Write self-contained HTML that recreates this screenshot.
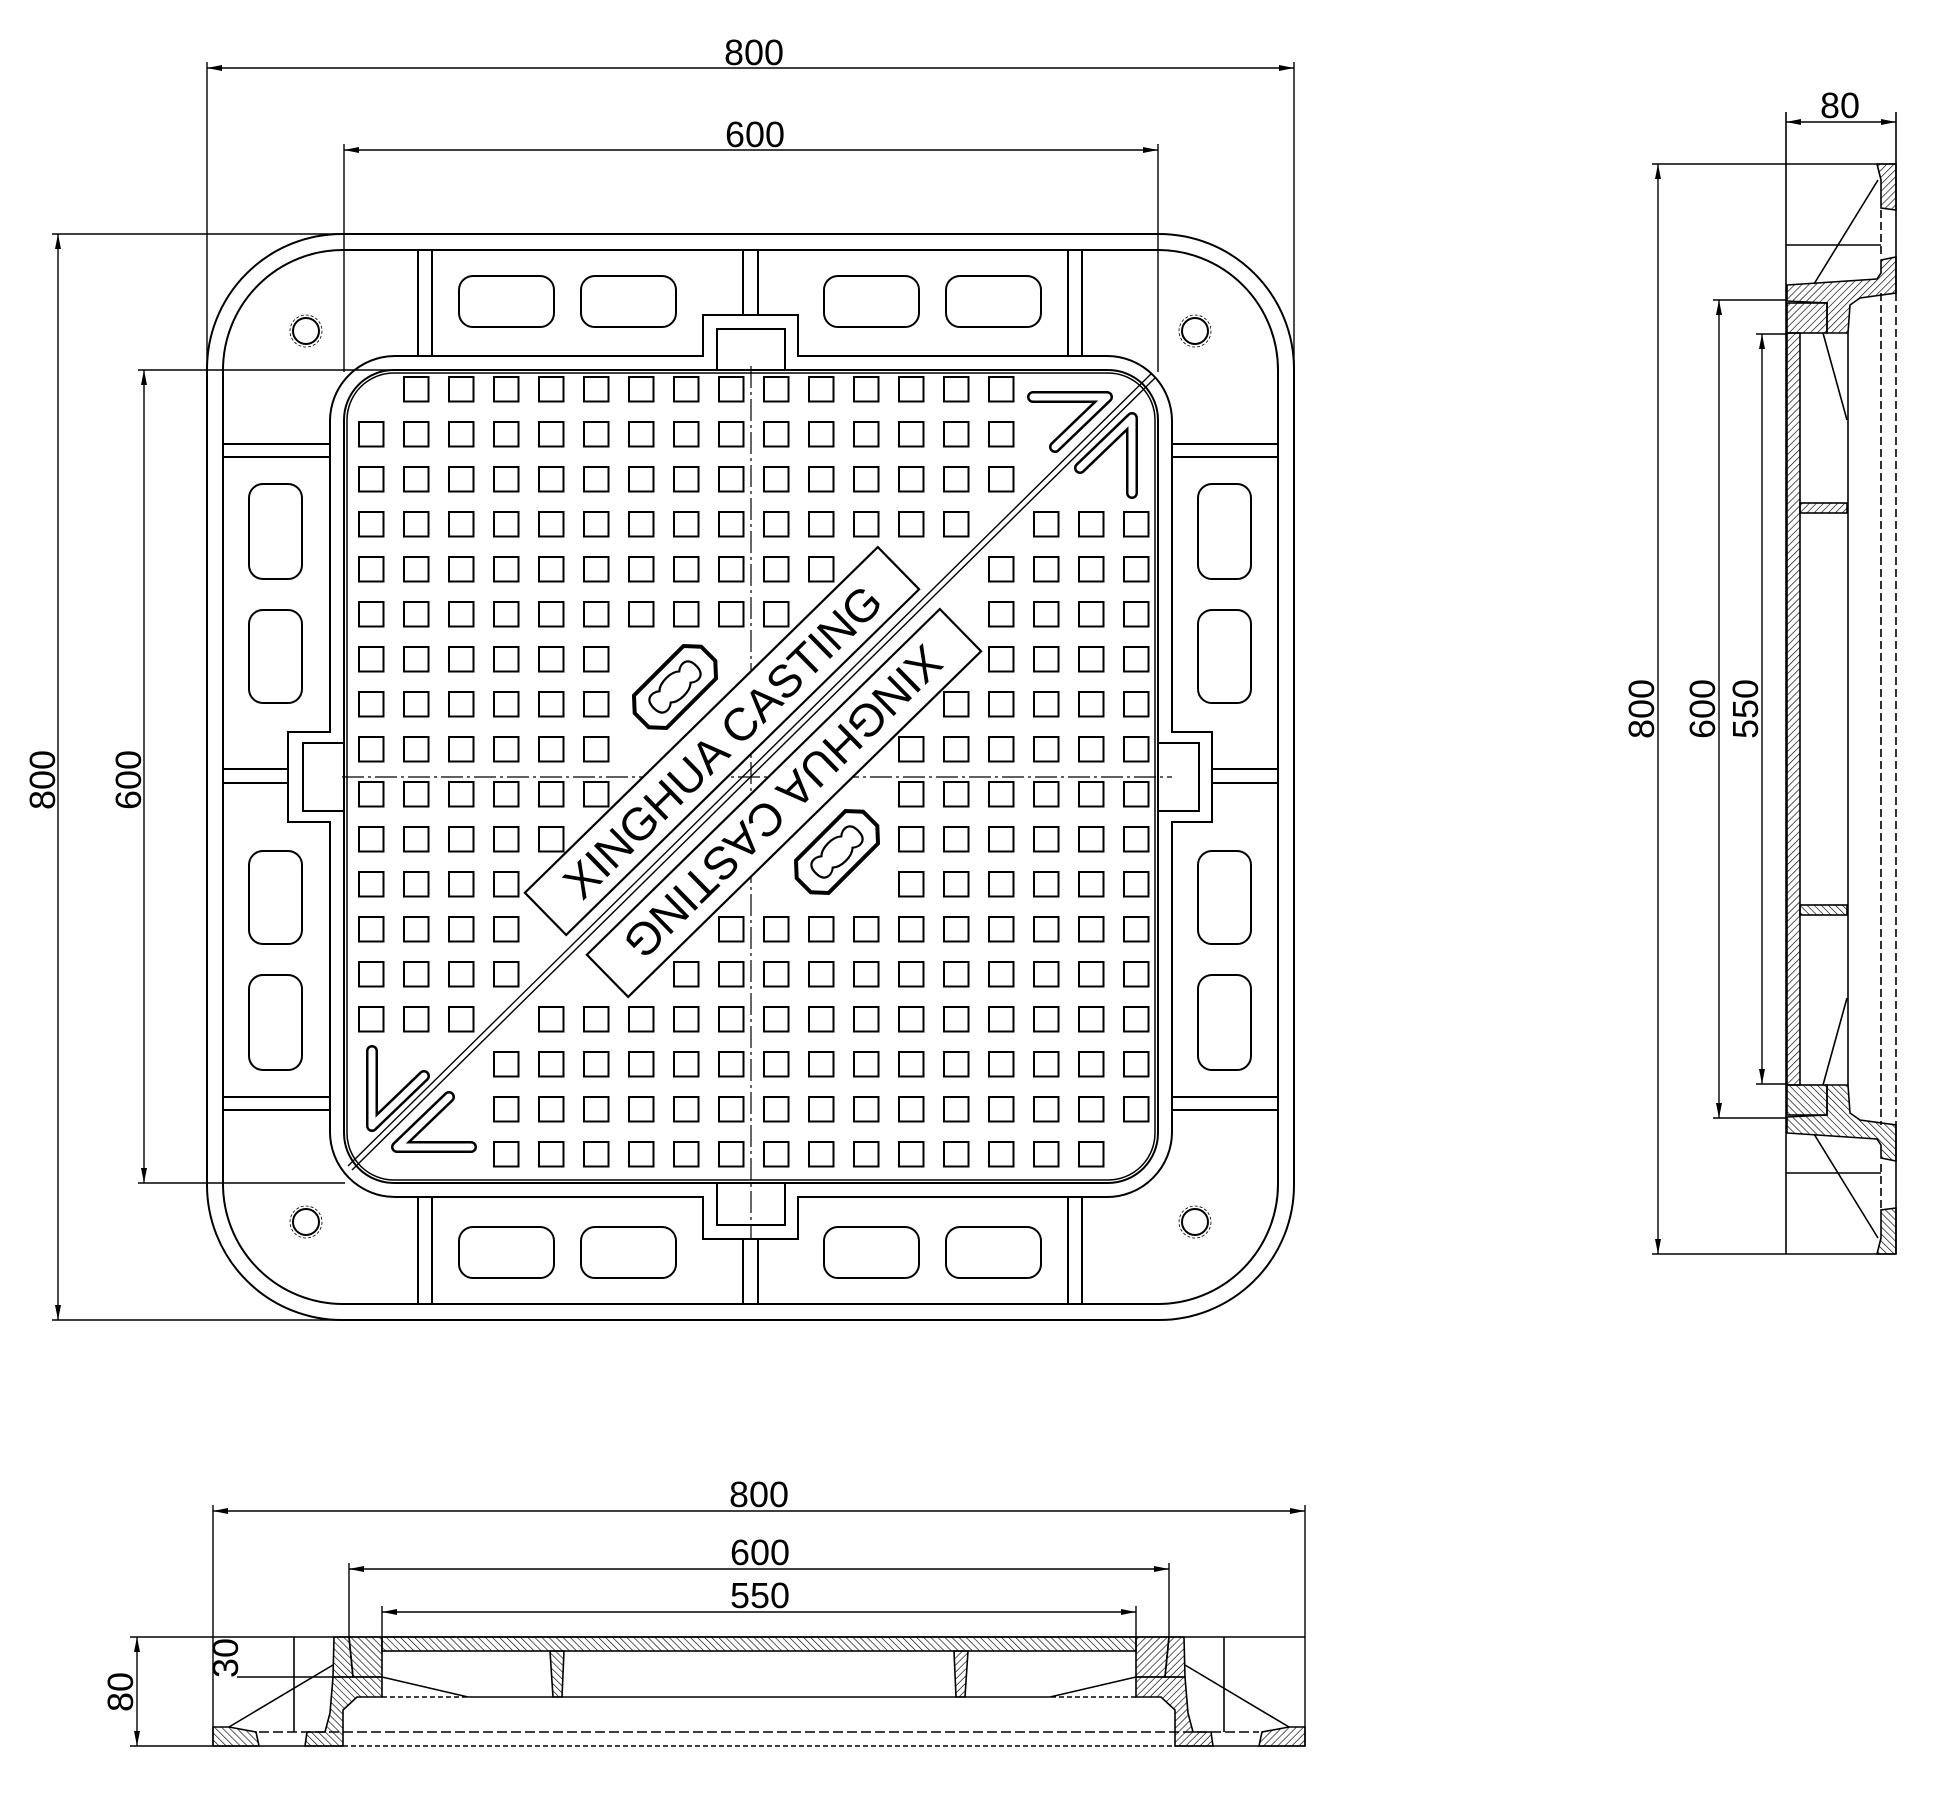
<!DOCTYPE html>
<html><head><meta charset="utf-8"><style>
html,body{margin:0;padding:0;background:#fff;}
svg{display:block;}
text{font-family:"Liberation Sans",Arial,sans-serif;fill:#000;}
</style></head><body>
<svg width="1937" height="1810" viewBox="0 0 1937 1810" xmlns="http://www.w3.org/2000/svg">
<defs>
<pattern id="g" patternUnits="userSpaceOnUse" x="358" y="376" width="45" height="45">
<rect x="1" y="1" width="24.5" height="24.5" fill="none" stroke="#000" stroke-width="2"/>
</pattern>
<pattern id="h1" patternUnits="userSpaceOnUse" width="5" height="5" patternTransform="rotate(45)">
<line x1="0" y1="0" x2="0" y2="5" stroke="#000" stroke-width="1.3"/>
</pattern>
<pattern id="h2" patternUnits="userSpaceOnUse" width="5" height="5" patternTransform="rotate(-45)">
<line x1="0" y1="0" x2="0" y2="5" stroke="#000" stroke-width="1.3"/>
</pattern>
<marker id="a" markerUnits="userSpaceOnUse" markerWidth="16" markerHeight="6" refX="15" refY="3" orient="auto-start-reverse">
<path d="M0,0 L15,3 L0,6 Z" fill="#000"/>
</marker>
</defs>

<g fill="none" stroke="#000" stroke-width="2">
<rect x="207" y="234" width="1087" height="1086" rx="135"/>
<rect x="223" y="250" width="1055" height="1054" rx="120"/>
<path d="M395,356 H703 V315 H798 V356 H1107 A65 65 0 0 1 1172 421 V732 H1212 V822 H1172 V1132 A65 65 0 0 1 1107 1197 H798 V1239 H703 V1197 H395 A65 65 0 0 1 330 1132 V822 H288 V732 H330 V421 A65 65 0 0 1 395 356 Z"/>
<path d="M717,370 V329 H785 V370 M717,1183 V1225 H785 V1183 M344,743 H303 V811 H344 M1158,743 H1199 V811 H1158"/>
<rect x="344" y="370" width="814" height="813" rx="50"/>
<rect x="347" y="373" width="808" height="807" rx="47" stroke-width="1.5"/>
<path d="M418,250V356 M432,250V356 M743,250V315 M758,250V315 M1068,250V356 M1082,250V356
M418,1197V1304 M432,1197V1304 M743,1239V1304 M758,1239V1304 M1068,1197V1304 M1082,1197V1304
M223,444H330 M223,457H330 M223,769H288 M223,783H288 M223,1097H330 M223,1110H330
M1172,444H1278 M1172,457H1278 M1212,769H1278 M1212,783H1278 M1172,1097H1278 M1172,1110H1278"/>
<rect x="459" y="276" width="95" height="51" rx="14"/><rect x="581" y="276" width="95" height="51" rx="14"/>
<rect x="824" y="276" width="95" height="51" rx="14"/><rect x="946" y="276" width="95" height="51" rx="14"/>
<rect x="459" y="1227" width="95" height="51" rx="14"/><rect x="581" y="1227" width="95" height="51" rx="14"/>
<rect x="824" y="1227" width="95" height="51" rx="14"/><rect x="946" y="1227" width="95" height="51" rx="14"/>
<rect x="249" y="484" width="53" height="95" rx="14"/><rect x="249" y="610" width="53" height="93" rx="14"/>
<rect x="249" y="851" width="53" height="93" rx="14"/><rect x="249" y="975" width="53" height="95" rx="14"/>
<rect x="1198" y="484" width="53" height="95" rx="14"/><rect x="1198" y="610" width="53" height="93" rx="14"/>
<rect x="1198" y="851" width="53" height="93" rx="14"/><rect x="1198" y="975" width="53" height="95" rx="14"/>
<circle cx="306" cy="331" r="13"/><circle cx="1195" cy="331" r="13"/>
<circle cx="306" cy="1222" r="13"/><circle cx="1195" cy="1222" r="13"/>
<g stroke-width="0.8" stroke-dasharray="3 2">
<circle cx="306" cy="331" r="16"/><circle cx="1195" cy="331" r="16"/>
<circle cx="306" cy="1222" r="16"/><circle cx="1195" cy="1222" r="16"/>
</g>
</g>

<g fill="url(#g)">
<rect x="403" y="376" width="630" height="45"/>
<rect x="358" y="421" width="675" height="45"/>
<rect x="358" y="466" width="675" height="45"/>
<rect x="358" y="511" width="630" height="45"/><rect x="1033" y="511" width="135" height="45"/>
<rect x="358" y="556" width="495" height="45"/><rect x="988" y="556" width="180" height="45"/>
<rect x="358" y="601" width="450" height="45"/><rect x="988" y="601" width="180" height="45"/>
<rect x="358" y="646" width="270" height="45"/><rect x="988" y="646" width="180" height="45"/>
<rect x="358" y="691" width="270" height="45"/><rect x="943" y="691" width="225" height="45"/>
<rect x="358" y="736" width="270" height="45"/><rect x="898" y="736" width="270" height="45"/>
<rect x="358" y="781" width="270" height="45"/><rect x="898" y="781" width="270" height="45"/>
<rect x="358" y="826" width="225" height="45"/><rect x="898" y="826" width="270" height="45"/>
<rect x="358" y="871" width="180" height="45"/><rect x="898" y="871" width="270" height="45"/>
<rect x="358" y="916" width="180" height="45"/><rect x="718" y="916" width="450" height="45"/>
<rect x="358" y="961" width="180" height="45"/><rect x="673" y="961" width="495" height="45"/>
<rect x="358" y="1006" width="135" height="45"/><rect x="538" y="1006" width="630" height="45"/>
<rect x="493" y="1051" width="675" height="45"/>
<rect x="493" y="1096" width="675" height="45"/>
<rect x="493" y="1141" width="630" height="45"/>
</g>

<g stroke="#000" stroke-width="1.2" stroke-dasharray="22 4 3 4" fill="none">
<line x1="751" y1="366" x2="751" y2="1240"/>
<line x1="342" y1="777" x2="1172" y2="777"/>
</g>

<g stroke="#000" stroke-width="1.4">
<line x1="348" y1="1166" x2="1152" y2="373"/>
<line x1="352" y1="1170" x2="1156" y2="377"/>
</g>

<g transform="translate(722,741) rotate(-44.4)">
<rect x="-247" y="-29.5" width="494" height="59" fill="#fff" stroke="#000" stroke-width="2.2"/>
<text x="0" y="17" font-size="46" text-anchor="middle">XINGHUA CASTING</text>
</g>
<g transform="translate(784,803) rotate(135.6)">
<rect x="-247" y="-29.5" width="494" height="59" fill="#fff" stroke="#000" stroke-width="2.2"/>
<text x="0" y="17" font-size="46" text-anchor="middle">XINGHUA CASTING</text>
</g>

<g fill="#fff" stroke="#000">
<g transform="translate(675,687) rotate(-45)">
<polygon points="-47,-10 -35,-23 35,-23 47,-10 47,10 35,23 -35,23 -47,10" stroke-width="4"/>
<path d="M-30,0 C-30,-13 -20,-13 -14,-8 C-8,-14 8,-14 14,-8 C20,-13 30,-13 30,0 C30,13 20,13 14,8 C8,14 -8,14 -14,8 C-20,13 -30,13 -30,0Z" stroke-width="2.2"/>
</g>
<g transform="translate(837,852) rotate(-45)">
<polygon points="-47,-10 -35,-23 35,-23 47,-10 47,10 35,23 -35,23 -47,10" stroke-width="4"/>
<path d="M-30,0 C-30,-13 -20,-13 -14,-8 C-8,-14 8,-14 14,-8 C20,-13 30,-13 30,0 C30,13 20,13 14,8 C8,14 -8,14 -14,8 C-20,13 -30,13 -30,0Z" stroke-width="2.2"/>
</g>
</g>

<g fill="none" stroke-linecap="round" stroke-linejoin="round">
<path d="M1033,397 L1107,397 L1055,447 M1080,468 L1132,418 L1132,493 M471,1147 L397,1147 L449,1097 M424,1076 L372,1126 L372,1051" stroke="#000" stroke-width="12"/>
<path d="M1033,397 L1107,397 L1055,447 M1080,468 L1132,418 L1132,493 M471,1147 L397,1147 L449,1097 M424,1076 L372,1126 L372,1051" stroke="#fff" stroke-width="7"/>
</g>

<g stroke="#000" stroke-width="1.4" fill="none">
<line x1="207" y1="62" x2="207" y2="385"/>
<line x1="1294" y1="62" x2="1294" y2="400"/>
<line x1="344" y1="144" x2="344" y2="372"/>
<line x1="1158" y1="144" x2="1158" y2="372"/>
<line x1="52" y1="234" x2="352" y2="234"/>
<line x1="52" y1="1320" x2="345" y2="1320"/>
<line x1="138" y1="370" x2="755" y2="370"/>
<line x1="138" y1="1183" x2="345" y2="1183"/>
<line x1="207" y1="68" x2="1294" y2="68" marker-start="url(#a)" marker-end="url(#a)"/>
<line x1="344" y1="150" x2="1158" y2="150" marker-start="url(#a)" marker-end="url(#a)"/>
<line x1="58" y1="234" x2="58" y2="1320" marker-start="url(#a)" marker-end="url(#a)"/>
<line x1="144" y1="370" x2="144" y2="1183" marker-start="url(#a)" marker-end="url(#a)"/>
</g>
<g font-size="36" text-anchor="middle">
<text x="754" y="65">800</text>
<text x="755" y="147">600</text>
<text transform="translate(55,780) rotate(-90)">800</text>
<text transform="translate(141,780) rotate(-90)">600</text>
</g>

<g id="sv" stroke="#000" stroke-width="1.6">
<polygon points="1877,164 1896,164 1896,210 1881,208 1881,180" fill="url(#h1)"/>
<polygon points="1787,285 1877,279 1881,273 1881,260 1896,257 1896,293 1860,298 1850,305 1848,333 1827,333 1827,303 1787,301" fill="url(#h1)"/>
<rect x="1787" y="303" width="40" height="30" fill="url(#h1)"/>
<rect x="1800" y="503" width="47" height="10" fill="url(#h1)"/>
<line x1="1896" y1="164" x2="1896" y2="293"/>
<line x1="1786" y1="245" x2="1881" y2="245"/>
<line x1="1814" y1="284" x2="1878" y2="180"/>
<line x1="1823" y1="333" x2="1847" y2="420"/>
<line x1="1881" y1="210" x2="1881" y2="258" stroke-dasharray="8 4"/>
</g>
<use href="#sv" transform="translate(0,1418) scale(1,-1)"/>
<g stroke="#000" stroke-width="1.6" fill="none">
<rect x="1787" y="333" width="13" height="752" fill="url(#h1)"/>
<line x1="1848" y1="333" x2="1848" y2="1085"/>
<line x1="1881" y1="293" x2="1881" y2="1125" stroke-dasharray="8 4"/>
<line x1="1896" y1="293" x2="1896" y2="1125" stroke-dasharray="8 4"/>
<line x1="1786" y1="112" x2="1786" y2="1254"/>
<line x1="1896" y1="112" x2="1896" y2="164"/>
</g>
<g stroke="#000" stroke-width="1.4" fill="none">
<line x1="1786" y1="122" x2="1896" y2="122" marker-start="url(#a)" marker-end="url(#a)"/>
<line x1="1652" y1="164" x2="1896" y2="164"/>
<line x1="1652" y1="1254" x2="1896" y2="1254"/>
<line x1="1658" y1="164" x2="1658" y2="1254" marker-start="url(#a)" marker-end="url(#a)"/>
<line x1="1713" y1="300" x2="1787" y2="300"/>
<line x1="1713" y1="1118" x2="1787" y2="1118"/>
<line x1="1719" y1="300" x2="1719" y2="1118" marker-start="url(#a)" marker-end="url(#a)"/>
<line x1="1756" y1="334" x2="1787" y2="334"/>
<line x1="1756" y1="1084" x2="1787" y2="1084"/>
<line x1="1762" y1="334" x2="1762" y2="1084" marker-start="url(#a)" marker-end="url(#a)"/>
</g>
<g font-size="36" text-anchor="middle">
<text x="1840" y="118">80</text>
<text transform="translate(1654,709) rotate(-90)">800</text>
<text transform="translate(1715,709) rotate(-90)">600</text>
<text transform="translate(1758,709) rotate(-90)">550</text>
</g>

<g id="bv" stroke="#000" stroke-width="1.6">
<polygon points="334,1637 349,1637 353,1677 333,1677" fill="url(#h2)"/>
<polygon points="349,1637 382,1637 382,1677 353,1677" fill="url(#h2)"/>
<polygon points="333,1677 382,1677 382,1697 357,1697 343,1710 343,1746 305,1746 307,1732 325,1732 330,1713" fill="url(#h2)"/>
<polygon points="213,1727 229,1727 256,1732 259,1746 213,1746" fill="url(#h2)"/>
<polygon points="550,1651 564,1651 562,1697 553,1697" fill="url(#h2)"/>
<line x1="229" y1="1727" x2="333" y2="1665"/>
<line x1="382" y1="1677" x2="468" y2="1697"/>
<line x1="294" y1="1637" x2="294" y2="1732"/>
<line x1="382" y1="1697" x2="468" y2="1697" stroke-dasharray="5 3"/>
</g>
<use href="#bv" transform="translate(1518,0) scale(-1,1)"/>
<g stroke="#000" stroke-width="1.6" fill="none">
<rect x="382" y="1637" width="754" height="14" fill="url(#h2)"/>
<line x1="130" y1="1637" x2="1305" y2="1637"/>
<line x1="468" y1="1697" x2="1050" y2="1697"/>
<line x1="130" y1="1746" x2="343" y2="1746"/>
<line x1="1175" y1="1746" x2="1305" y2="1746"/>
<line x1="343" y1="1746" x2="1175" y2="1746" stroke-dasharray="5 3"/>
<line x1="259" y1="1732" x2="1259" y2="1732" stroke-dasharray="10 4"/>
<line x1="237" y1="1677" x2="333" y2="1677"/>
</g>
<g stroke="#000" stroke-width="1.4" fill="none">
<line x1="137" y1="1637" x2="137" y2="1746" marker-start="url(#a)" marker-end="url(#a)"/>
<line x1="213" y1="1505" x2="213" y2="1746"/>
<line x1="1305" y1="1505" x2="1305" y2="1746"/>
<line x1="213" y1="1511" x2="1305" y2="1511" marker-start="url(#a)" marker-end="url(#a)"/>
<line x1="349" y1="1563" x2="349" y2="1637"/>
<line x1="1169" y1="1563" x2="1169" y2="1637"/>
<line x1="349" y1="1569" x2="1169" y2="1569" marker-start="url(#a)" marker-end="url(#a)"/>
<line x1="382" y1="1606" x2="382" y2="1637"/>
<line x1="1136" y1="1606" x2="1136" y2="1637"/>
<line x1="382" y1="1612" x2="1136" y2="1612" marker-start="url(#a)" marker-end="url(#a)"/>
</g>
<g font-size="36" text-anchor="middle">
<text x="759" y="1507">800</text>
<text x="760" y="1565">600</text>
<text x="760" y="1608">550</text>
<text transform="translate(133,1692) rotate(-90)">80</text>
<text transform="translate(238,1658) rotate(-90)">30</text>
</g>
</svg>
</body></html>
